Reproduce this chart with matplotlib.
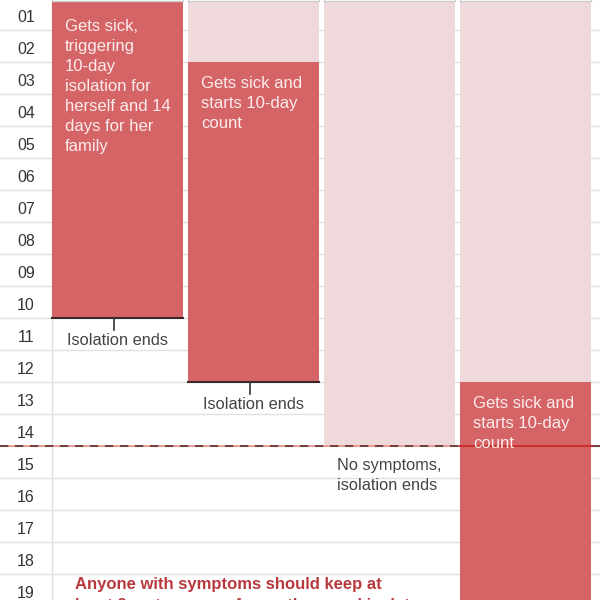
import matplotlib.pyplot as plt
from matplotlib.patches import Rectangle

plt.rcParams['font.family'] = ['Liberation Sans', 'DejaVu Sans']

# days shown down the left
day_labels = ["%02d" % d for d in range(1, 20)]

# one column per family member: (start day, length) of the sick block
sick_start = [0, 2, None, 12]
sick_length = [10, 10, 0, 10]
family_quarantine = 14  # days of isolation for the rest of the household

bar_notes = [
    "Gets sick,\ntriggering\n10-day\nisolation for\nherself and 14\ndays for her\nfamily",
    "Gets sick and\nstarts 10-day\ncount",
    None,
    "Gets sick and\nstarts 10-day\ncount",
]
end_notes = ["Isolation ends", "Isolation ends", "No symptoms,\nisolation ends", None]
footer = ["Anyone with symptoms should keep at",
          "least 2 metres away from others and isolate"]

RED = '#d56467'
PALE = '#f0d9da'
INK = '#fcecec'

fig = plt.figure(figsize=(6, 6), dpi=100)
ax = fig.add_axes([0, 0, 1, 1])
ax.set_xlim(0, 600)
ax.set_ylim(18.8125, 0.0625)
ax.axis('off')

col_left, col_pitch, col_w = 52, 136, 131

# grid rows and day labels
for d in range(1, 20):
    ax.axhline(d, color='#e2e2e2', lw=1, zorder=0)
for i, lab in enumerate(day_labels):
    ax.text(26, i + 0.6, lab, ha='center', va='center', fontsize=11.5, color='#333333')
ax.axvline(col_left, color='#dddddd', lw=1, zorder=0.5)

for i in range(4):
    x0 = col_left + i * col_pitch
    xc = x0 + col_w / 2
    # pale quarantine block until she gets sick (or the family's 14 days end)
    pale_end = family_quarantine if sick_start[i] is None else sick_start[i]
    if pale_end > 0:
        ax.bar(xc, pale_end, bottom=0, width=col_w, color=PALE, zorder=1)
    if sick_start[i] is not None:
        s, n = sick_start[i], sick_length[i]
        ax.bar(xc, n, bottom=s, width=col_w, color=RED, zorder=2)
        ax.text(x0 + 13, s + (0.66 if s == 0 else 0.45), bar_notes[i], ha='left', va='top',
                fontsize=12, color=INK, linespacing=1.42, zorder=5)
        if end_notes[i] is not None:
            e = s + n
            ax.plot([x0, x0 + col_w], [e, e], color='#3a2a2a', lw=1.5, zorder=3)
            ax.plot([xc - 4, xc - 4], [e, e + 0.38], color='#333333', lw=1.2, zorder=3)
            ax.text(xc, e + 0.69, end_notes[i], ha='center', va='center',
                    fontsize=11.8, color='#444444')
    elif end_notes[i] is not None:
        ax.text(x0 + 13, family_quarantine + 0.36, end_notes[i], ha='left', va='top',
                fontsize=11.8, color='#444444', linespacing=1.42)
    # header box edge peeking in at the top
    ax.add_patch(Rectangle((x0, -1), col_w, 1.09, facecolor='white',
                           edgecolor='#cccccc', lw=1, zorder=4))

# end of the family's 14 days
ax.axhline(family_quarantine, color='#e8927f', lw=1.2, zorder=3)
ax.plot([0, 460], [family_quarantine] * 2, color='#5a3030', lw=1.2,
        dashes=(5, 4), zorder=3.5)
ax.plot([592, 600], [family_quarantine] * 2, color='#5a3030', lw=1.2, zorder=3.5)
ax.plot([460, 592], [family_quarantine] * 2, color='#c8302c', lw=1.5, zorder=3.5)

ax.text(75, 18.34, footer[0], ha='left', va='center', fontsize=12,
        fontweight='bold', color='#b8393d')
ax.text(75, 18.97, footer[1], ha='left', va='center', fontsize=12,
        fontweight='bold', color='#b8393d')

fig.savefig('out.png', dpi=100)
